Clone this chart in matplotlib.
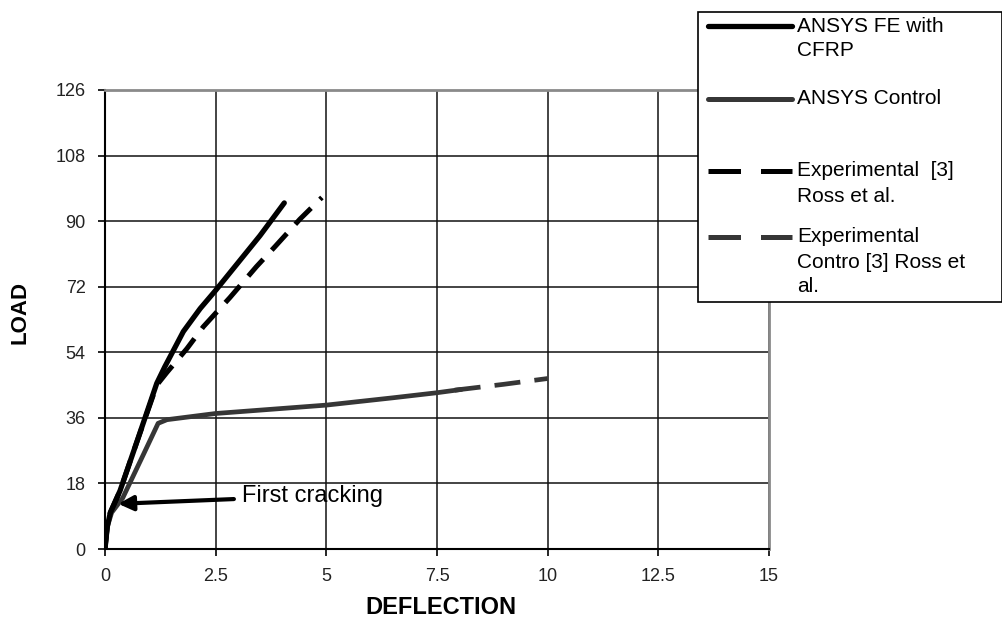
import matplotlib.pyplot as plt
from matplotlib.lines import Line2D
from matplotlib.patches import Rectangle

plt.rcParams['font.family'] = ['Liberation Sans', 'DejaVu Sans']

# ANSYS FE model with CFRP
ansys_cfrp_x = [0, 0.05, 0.12, 0.34, 0.68, 1.17, 1.35, 1.77, 2.15, 2.5, 3.0, 3.5, 4.05]
ansys_cfrp_y = [0, 6, 10, 16, 28, 45.5, 50, 59.7, 66, 71, 78.5, 86, 95]

# experimental beam with CFRP (Ross et al.)
exp_cfrp_x = [0, 0.05, 0.12, 0.34, 0.68, 1.17, 1.4, 1.85, 2.22, 2.82, 3.42, 3.84, 4.4, 4.9]
exp_cfrp_y = [0, 6, 10, 16, 28, 45, 48.5, 55, 61, 69, 77.5, 83, 90.5, 96.5]

# ANSYS control beam
ansys_ctrl_x = [0, 0.05, 0.15, 0.4, 0.87, 1.2, 1.4, 2.5, 5.0, 6.5, 7.5, 8.05]
ansys_ctrl_y = [0, 6, 10, 14, 26, 34.5, 35.5, 37.2, 39.5, 41.5, 42.9, 43.8]

# experimental control beam (only the part past the ANSYS curve shows)
exp_ctrl_x = [7.9, 9.0, 10.0]
exp_ctrl_y = [43.6, 45.2, 46.8]

x_ticks = [0, 2.5, 5, 7.5, 10, 12.5, 15]
x_tick_labels = ['0', '2.5', '5', '7.5', '10', '12.5', '15']
y_ticks = [0, 18, 36, 54, 72, 90, 108, 126]

legend_labels = ['ANSYS FE with\nCFRP', 'ANSYS Control',
                 'Experimental  [3]\nRoss et al.',
                 'Experimental\nContro [3] Ross et\nal.']

black = '#000000'
grey = '#363636'

W, H = 1003, 619
fig = plt.figure(figsize=(W / 100, H / 100), dpi=100)
ax = fig.add_axes([105 / W, 1 - 549 / H, (769 - 105) / W, (549 - 90) / H])

ax.plot(ansys_ctrl_x, ansys_ctrl_y, color=grey, lw=3.4, solid_capstyle='round', zorder=3)
ax.plot(exp_ctrl_x, exp_ctrl_y, color=grey, lw=3.4, dashes=(5.5, 3), zorder=3)
ax.plot(exp_cfrp_x, exp_cfrp_y, color=black, lw=3.6, dashes=(4.5, 2.5), zorder=4)
ax.plot(ansys_cfrp_x, ansys_cfrp_y, color=black, lw=3.8, solid_capstyle='round', zorder=5)

ax.annotate('First cracking', xy=(0.3, 12.4), xytext=(3.1, 14.6),
            fontsize=17, va='center', ha='left', color='black',
            arrowprops=dict(arrowstyle='-|>', color='black', lw=3,
                            mutation_scale=22, shrinkA=4, shrinkB=0),
            zorder=6)

ax.set_xlim(0, 15)
ax.set_ylim(0, 126)
ax.set_xticks(x_ticks)
ax.set_xticklabels(x_tick_labels)
ax.set_yticks(y_ticks)
ax.tick_params(direction='out', length=5, width=1.2, labelsize=13,
               labelcolor='#222222', pad=9)
ax.grid(True, color='#111111', lw=1.1)
ax.set_axisbelow(True)
for side in ['left', 'bottom']:
    ax.spines[side].set_color('black')
    ax.spines[side].set_linewidth(1.5)
for side in ['top', 'right']:
    ax.spines[side].set_color('#8a8a8a')
    ax.spines[side].set_linewidth(2)

fig.text(20 / W, 1 - 312 / H, 'LOAD', rotation=90, fontsize=16,
         fontweight='bold', ha='center', va='center')
fig.text(441 / W, 1 - 608 / H, 'DEFLECTION', fontsize=17,
         fontweight='bold', ha='center', va='center')

# legend box, drawn by hand so the handles sit on the first text line
fig.patches.append(Rectangle((698 / W, 1 - 302 / H), (1002 - 698) / W, (302 - 12) / H,
                             transform=fig.transFigure, facecolor='white',
                             edgecolor='black', lw=1.2, zorder=10))
handle_styles = [
    dict(color=black, lw=3.8, solid_capstyle='round'),
    dict(color=grey, lw=3.6, solid_capstyle='round'),
    dict(color=black, lw=3.6, dashes=(6.5, 4)),
    dict(color=grey, lw=3.6, dashes=(6.5, 4)),
]
entry_y = [26, 99, 171, 237]
for label, style, yp in zip(legend_labels, handle_styles, entry_y):
    fig.lines.append(Line2D([708 / W, 792 / W], [1 - yp / H, 1 - yp / H],
                            transform=fig.transFigure, zorder=11, **style))
    for k, line in enumerate(label.split('\n')):
        fig.text(797 / W, 1 - (yp + 25 * k) / H, line, fontsize=15,
                 ha='left', va='center', zorder=12)

fig.savefig('out.png', dpi=100)
